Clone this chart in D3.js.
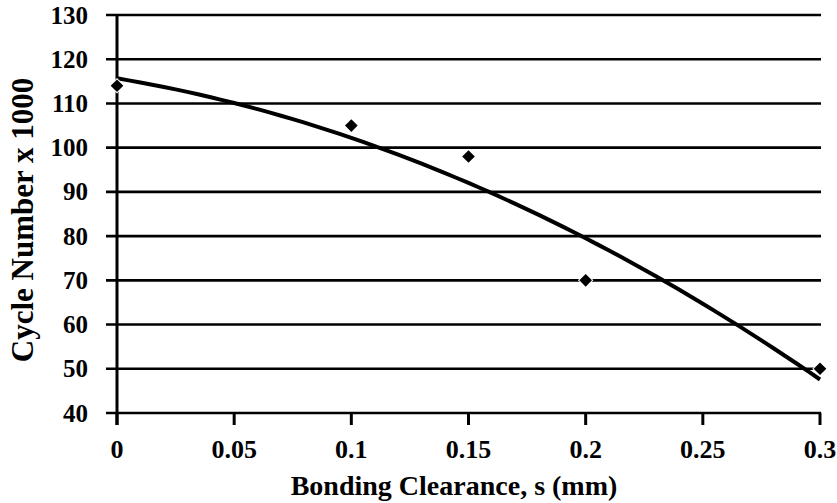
<!DOCTYPE html>
<html>
<head>
<meta charset="utf-8">
<script src="https://cdn.jsdelivr.net/npm/d3@7"></script>
<style>
  body { margin: 0; background: #fff; }
  text { font-family: "Liberation Serif", "Times New Roman", serif; font-weight: bold; fill: #000; }
</style>
</head>
<body>
<svg id="chart" width="837" height="503"></svg>
<script>
// measured points
const clearance = [0, 0.1, 0.15, 0.2, 0.3];
const cycles = [114, 105, 98, 70, 50];
const xTicks = [0, 0.05, 0.1, 0.15, 0.2, 0.25, 0.3];
const yTicks = [40, 50, 60, 70, 80, 90, 100, 110, 120, 130];

const svg = d3.select("#chart");
const x = d3.scaleLinear().domain([0, 0.3]).range([117, 820]);
const y = d3.scaleLinear().domain([40, 130]).range([413, 15]);

// 2nd order polynomial trendline (least squares), like the spreadsheet one
function polyFit(xs, ys) {
  const s = k => d3.sum(xs, v => Math.pow(v, k));
  const t = k => d3.sum(xs, (v, i) => Math.pow(v, k) * ys[i]);
  const A = [[s(0), s(1), s(2), t(0)], [s(1), s(2), s(3), t(1)], [s(2), s(3), s(4), t(2)]];
  for (let i = 0; i < 3; i++) {
    for (let j = i + 1; j < 3; j++) {
      const f = A[j][i] / A[i][i];
      for (let k = i; k < 4; k++) A[j][k] -= f * A[i][k];
    }
  }
  const c = [0, 0, 0];
  for (let i = 2; i >= 0; i--) {
    let v = A[i][3];
    for (let k = i + 1; k < 3; k++) v -= A[i][k] * c[k];
    c[i] = v / A[i][i];
  }
  return v => c[0] + c[1] * v + c[2] * v * v;
}
const trend = polyFit(clearance, cycles);

// gridlines (also act as y ticks)
svg.append("g").selectAll("line")
  .data(yTicks)
  .join("line")
  .attr("x1", 106).attr("x2", x(0.3) + 1)
  .attr("y1", d => y(d)).attr("y2", d => y(d))
  .attr("stroke", "#000").attr("stroke-width", 2.6);

// y axis line
svg.append("line")
  .attr("x1", x(0)).attr("x2", x(0))
  .attr("y1", y(130) - 1).attr("y2", y(40) + 12)
  .attr("stroke", "#000").attr("stroke-width", 3);

// x axis ticks
svg.append("g").selectAll("line")
  .data(xTicks)
  .join("line")
  .attr("x1", d => x(d)).attr("x2", d => x(d))
  .attr("y1", y(40)).attr("y2", y(40) + 12)
  .attr("stroke", "#000").attr("stroke-width", 3);

// tick labels
svg.append("g").selectAll("text")
  .data(yTicks)
  .join("text")
  .attr("x", 88).attr("y", d => y(d))
  .attr("dy", "0.34em")
  .attr("text-anchor", "end")
  .style("font-size", "25px")
  .text(d => d);

svg.append("g").selectAll("text")
  .data(xTicks)
  .join("text")
  .attr("x", d => x(d)).attr("y", 458)
  .attr("text-anchor", "middle")
  .style("font-size", "26px")
  .text(d => d);

// trendline
const xs = d3.range(0, 0.3 + 1e-9, 0.005);
svg.append("path")
  .datum(xs)
  .attr("fill", "none")
  .attr("stroke", "#000")
  .attr("stroke-width", 4)
  .attr("d", d3.line().x(d => x(d)).y(d => y(trend(d))));

// markers
svg.append("g").selectAll("path")
  .data(clearance)
  .join("path")
  .attr("transform", (d, i) => `translate(${x(d)},${y(cycles[i])}) rotate(45)`)
  .attr("d", d3.symbol().type(d3.symbolSquare).size(80))
  .attr("fill", "#000")
  .attr("stroke", "#fff")
  .attr("stroke-width", 2)
  .attr("paint-order", "stroke");

// axis titles
svg.append("text")
  .attr("x", 454).attr("y", 495)
  .attr("text-anchor", "middle")
  .style("font-size", "28px")
  .text("Bonding Clearance, s (mm)");

svg.append("text")
  .attr("transform", "translate(33,220) rotate(-90)")
  .attr("text-anchor", "middle")
  .style("font-size", "31px")
  .text("Cycle Number x 1000");
</script>
</body>
</html>
